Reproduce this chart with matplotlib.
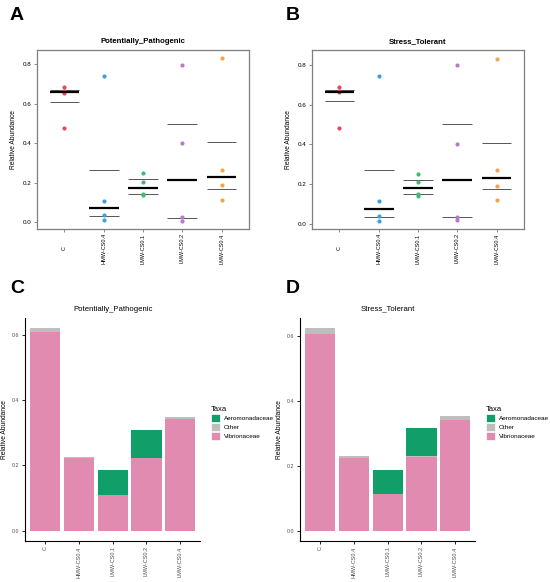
import matplotlib
matplotlib.use('Agg')
import matplotlib.pyplot as plt
import numpy as np
from matplotlib.patches import Patch

plt.rcParams['font.family'] = ['Liberation Sans', 'DejaVu Sans']

# ---------------- data ----------------
groups = ['C', 'HMW-CS0.4', 'LMW-CS0.1', 'LMW-CS0.2', 'LMW-CS0.4']
group_colors = ['#E5485A', '#3FA0D6', '#3DBB70', '#B57BC8', '#F2A54E']

pp_points = [
    [0.684, 0.667, 0.653, 0.478],
    [0.741, 0.108, 0.037, 0.012],
    [0.250, 0.206, 0.144, 0.138],
    [0.798, 0.400, 0.025, 0.008],
    [0.829, 0.267, 0.187, 0.113],
]
st_points = [
    [0.686, 0.666, 0.663, 0.481],
    [0.743, 0.115, 0.040, 0.017],
    [0.250, 0.210, 0.152, 0.139],
    [0.800, 0.402, 0.037, 0.022],
    [0.830, 0.269, 0.192, 0.119],
]
y_ticks_top = [0.0, 0.2, 0.4, 0.6, 0.8]

taxa = ['Aeromonadaceae', 'Other', 'Vibrionaceae']
taxa_colors = ['#119E68', '#BEBEBE', '#E18BB1']

pp_vibrio = [0.608, 0.2235, 0.110, 0.222, 0.343]
pp_other = [0.013, 0.001, 0.000, 0.000, 0.006]
pp_aero = [0.000, 0.000, 0.0745, 0.086, 0.000]

st_vibrio = [0.605, 0.224, 0.112, 0.226, 0.340]
st_other = [0.019, 0.005, 0.002, 0.003, 0.012]
st_aero = [0.000, 0.000, 0.074, 0.086, 0.000]
y_ticks_bottom = [0.0, 0.2, 0.4, 0.6]

W, H = 550, 582
fig = plt.figure(figsize=(W / 100, H / 100), dpi=100)


def rect(x0, y0, x1, y1):
    return [x0 / W, 1 - y1 / H, (x1 - x0) / W, (y1 - y0) / H]


def point_panel(r, pts, title, ylim):
    ax = fig.add_axes(r)
    x = np.arange(len(groups))
    for i, p in enumerate(pts):
        ax.scatter([x[i]] * len(p), p, s=9, color=group_colors[i], linewidths=0, zorder=3)
        q1, med, q3 = np.percentile(p, [25, 50, 75])
        ax.hlines([q1, q3], x[i] - 0.38, x[i] + 0.38, color='#555555', lw=0.7, zorder=2)
        ax.hlines(med, x[i] - 0.38, x[i] + 0.38, color='black', lw=1.6, zorder=4)
    ax.set_xlim(-0.7, len(groups) - 0.3)
    ax.set_ylim(*ylim)
    ax.set_yticks(y_ticks_top)
    ax.set_yticklabels(['%.1f' % v for v in y_ticks_top], fontsize=4.5)
    ax.set_xticks(x)
    ax.set_xticklabels(groups, rotation=90, fontsize=4, va='center')
    ax.tick_params(axis='x', length=2.5, pad=11.5, color='#777777', width=0.6)
    ax.tick_params(axis='y', length=2.5, pad=1.5, color='#777777', width=0.6)
    for s in ax.spines.values():
        s.set_color('#7F7F7F')
        s.set_linewidth(0.9)
    ax.set_title(title, fontsize=5.6, fontweight='bold', pad=5)
    ax.set_ylabel('Relative Abundance', fontsize=4.8, labelpad=4)
    return ax


def bar_panel(r, vib, oth, aer, title, ylim):
    ax = fig.add_axes(r)
    x = np.arange(len(groups))
    vib = np.array(vib)
    oth = np.array(oth)
    aer = np.array(aer)
    ax.bar(x, vib, 0.9, color=taxa_colors[2], linewidth=0)
    ax.bar(x, oth, 0.9, bottom=vib, color=taxa_colors[1], linewidth=0)
    ax.bar(x, aer, 0.9, bottom=vib + oth, color=taxa_colors[0], linewidth=0)
    ax.set_xlim(-0.6, len(groups) - 0.4)
    ax.set_ylim(*ylim)
    ax.set_yticks(y_ticks_bottom)
    ax.set_yticklabels(['%.1f' % v for v in y_ticks_bottom], fontsize=3.8, color='#4D4D4D')
    ax.set_xticks(x)
    ax.set_xticklabels(groups, rotation=90, fontsize=4, color='#4D4D4D')
    ax.tick_params(axis='both', length=2, width=0.6, pad=2)
    for s in ['top', 'right']:
        ax.spines[s].set_visible(False)
    for s in ['left', 'bottom']:
        ax.spines[s].set_linewidth(0.8)
    ax.set_title(title, fontsize=5.6, pad=5)
    ax.set_ylabel('Relative Abundance', fontsize=4.8, labelpad=3)
    handles = [Patch(facecolor=c, edgecolor='white', linewidth=0.5) for c in taxa_colors]
    ax.legend(handles, taxa, title='Taxa', loc='upper left',
              bbox_to_anchor=(r[0] + 186 / W, 1 - 406 / H), bbox_transform=fig.transFigure,
              frameon=False, fontsize=4.6, title_fontsize=5.5, handlelength=1.4,
              handleheight=1.5, labelspacing=0.2, handletextpad=0.6,
              borderaxespad=0, borderpad=0, alignment='left')
    return ax


point_panel(rect(37, 50, 249, 229), pp_points, 'Potentially_Pathogenic', (-0.034, 0.872))
point_panel(rect(312, 50, 524, 229), st_points, 'Stress_Tolerant', (-0.025, 0.874))
bar_panel(rect(25, 317.7, 200.4, 540.8), pp_vibrio, pp_other, pp_aero,
          'Potentially_Pathogenic', (-0.031, 0.652))
bar_panel(rect(300, 317.7, 475.4, 540.8), st_vibrio, st_other, st_aero,
          'Stress_Tolerant', (-0.031, 0.655))

for lab, (px, py) in zip(['A', 'B', 'C', 'D'], [(10, 20), (286, 20), (10, 293), (286, 293)]):
    fig.text(px / W, 1 - py / H, lab, fontsize=14, fontweight='heavy', va='baseline', ha='left')

fig.savefig('out.png', dpi=100)
